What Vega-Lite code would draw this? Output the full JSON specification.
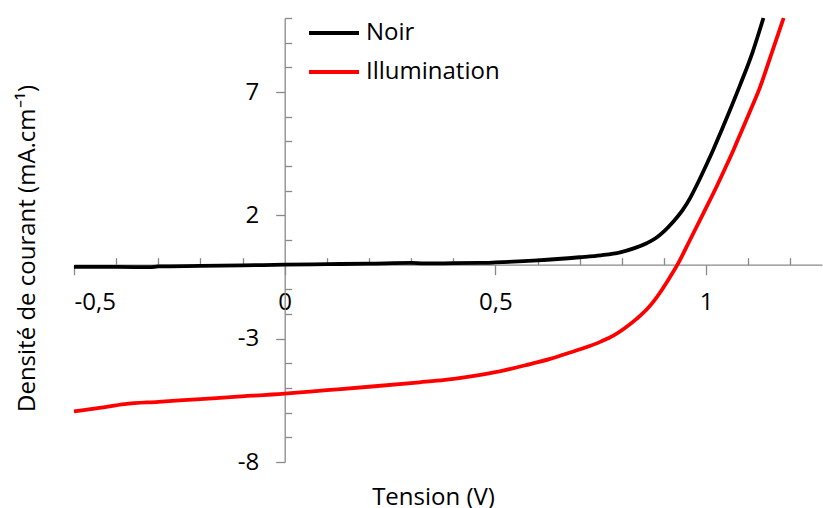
{
  "$schema": "https://vega.github.io/schema/vega-lite/v6.json",
  "width": 748,
  "height": 444,
  "autosize": {"type": "none"},
  "padding": {"left": 74, "top": 18, "right": 1, "bottom": 46},
  "background": "white",
  "config": {
    "view": {"stroke": null},
    "font": "Open Sans",
    "axis": {"labelFont": "Open Sans", "titleFont": "Open Sans", "labelFontSize": 24, "titleFontSize": 24, "labelColor": "#000000", "titleColor": "#000000", "titleFontWeight": "normal", "grid": false, "domainColor": "#898989", "tickColor": "#898989", "domainWidth": 1.3, "tickWidth": 1.3}
  },
  "data": {
    "values": [
      {"V": -0.5, "J": -0.09, "serie": "Noir"},
      {"V": -0.4, "J": -0.09, "serie": "Noir"},
      {"V": -0.32, "J": -0.1, "serie": "Noir"},
      {"V": -0.3, "J": -0.07, "serie": "Noir"},
      {"V": -0.2, "J": -0.05, "serie": "Noir"},
      {"V": -0.1, "J": -0.03, "serie": "Noir"},
      {"V": 0, "J": 0.0, "serie": "Noir"},
      {"V": 0.1, "J": 0.02, "serie": "Noir"},
      {"V": 0.2, "J": 0.04, "serie": "Noir"},
      {"V": 0.3, "J": 0.07, "serie": "Noir"},
      {"V": 0.33, "J": 0.05, "serie": "Noir"},
      {"V": 0.4, "J": 0.06, "serie": "Noir"},
      {"V": 0.463, "J": 0.07, "serie": "Noir"},
      {"V": 0.5, "J": 0.09, "serie": "Noir"},
      {"V": 0.6, "J": 0.17, "serie": "Noir"},
      {"V": 0.7, "J": 0.3, "serie": "Noir"},
      {"V": 0.75, "J": 0.38, "serie": "Noir"},
      {"V": 0.796, "J": 0.5, "serie": "Noir"},
      {"V": 0.83, "J": 0.67, "serie": "Noir"},
      {"V": 0.859, "J": 0.87, "serie": "Noir"},
      {"V": 0.88, "J": 1.07, "serie": "Noir"},
      {"V": 0.9, "J": 1.35, "serie": "Noir"},
      {"V": 0.922, "J": 1.74, "serie": "Noir"},
      {"V": 0.945, "J": 2.23, "serie": "Noir"},
      {"V": 0.962, "J": 2.7, "serie": "Noir"},
      {"V": 0.98, "J": 3.3, "serie": "Noir"},
      {"V": 0.998, "J": 3.95, "serie": "Noir"},
      {"V": 1.017, "J": 4.66, "serie": "Noir"},
      {"V": 1.035, "J": 5.38, "serie": "Noir"},
      {"V": 1.055, "J": 6.2, "serie": "Noir"},
      {"V": 1.081, "J": 7.3, "serie": "Noir"},
      {"V": 1.11, "J": 8.6, "serie": "Noir"},
      {"V": 1.136, "J": 10.0, "serie": "Noir"},
      {"V": -0.5, "J": -5.95, "serie": "Illumination"},
      {"V": -0.44, "J": -5.81, "serie": "Illumination"},
      {"V": -0.38, "J": -5.65, "serie": "Illumination"},
      {"V": -0.3, "J": -5.56, "serie": "Illumination"},
      {"V": -0.2, "J": -5.45, "serie": "Illumination"},
      {"V": -0.12, "J": -5.36, "serie": "Illumination"},
      {"V": 0, "J": -5.23, "serie": "Illumination"},
      {"V": 0.1, "J": -5.09, "serie": "Illumination"},
      {"V": 0.2, "J": -4.95, "serie": "Illumination"},
      {"V": 0.32, "J": -4.77, "serie": "Illumination"},
      {"V": 0.38, "J": -4.67, "serie": "Illumination"},
      {"V": 0.43, "J": -4.56, "serie": "Illumination"},
      {"V": 0.5, "J": -4.36, "serie": "Illumination"},
      {"V": 0.58, "J": -4.04, "serie": "Illumination"},
      {"V": 0.63, "J": -3.82, "serie": "Illumination"},
      {"V": 0.67, "J": -3.6, "serie": "Illumination"},
      {"V": 0.71, "J": -3.38, "serie": "Illumination"},
      {"V": 0.75, "J": -3.12, "serie": "Illumination"},
      {"V": 0.78, "J": -2.88, "serie": "Illumination"},
      {"V": 0.805, "J": -2.6, "serie": "Illumination"},
      {"V": 0.835, "J": -2.2, "serie": "Illumination"},
      {"V": 0.86, "J": -1.8, "serie": "Illumination"},
      {"V": 0.875, "J": -1.5, "serie": "Illumination"},
      {"V": 0.89, "J": -1.15, "serie": "Illumination"},
      {"V": 0.907, "J": -0.7, "serie": "Illumination"},
      {"V": 0.932, "J": 0.0, "serie": "Illumination"},
      {"V": 0.962, "J": 1.01, "serie": "Illumination"},
      {"V": 0.994, "J": 2.1, "serie": "Illumination"},
      {"V": 1.025, "J": 3.17, "serie": "Illumination"},
      {"V": 1.045, "J": 3.9, "serie": "Illumination"},
      {"V": 1.065, "J": 4.65, "serie": "Illumination"},
      {"V": 1.085, "J": 5.45, "serie": "Illumination"},
      {"V": 1.105, "J": 6.25, "serie": "Illumination"},
      {"V": 1.128, "J": 7.2, "serie": "Illumination"},
      {"V": 1.155, "J": 8.55, "serie": "Illumination"},
      {"V": 1.184, "J": 10.0, "serie": "Illumination"}
    ]
  },
  "resolve": {"axis": {"x": "independent", "y": "independent"}},
  "layer": [
    {
      "mark": {"type": "point", "opacity": 0},
      "encoding": {
        "x": {"field": "V", "type": "quantitative", "scale": {"domain": [-0.5, 1.275], "nice": false, "zero": false},
          "axis": {"orient": "top", "offset": -246.67, "values": [-0.4, -0.3, -0.2, -0.1, 0.1, 0.2, 0.3, 0.4, 0.6, 0.7, 0.8, 0.9, 1.1, 1.2], "labels": false, "domain": false, "tickSize": 7, "title": null}},
        "y": {"field": "J", "type": "quantitative", "scale": {"domain": [-8, 10], "nice": false, "zero": false},
          "axis": {"orient": "right", "offset": -537.3, "values": [-7, -6, -5, -4, -2, -1, 1, 3, 4, 5, 6, 8, 9, 10], "labels": false, "domain": false, "tickSize": 7, "title": null}}
      }
    },
    {
      "mark": {"type": "line", "strokeWidth": 3.8, "interpolate": "monotone"},
      "encoding": {
        "x": {"field": "V", "type": "quantitative",
          "axis": {"orient": "bottom", "offset": -197.33, "values": [-0.5, 0, 0.5, 1], "tickSize": 10, "labelPadding": 16, "labelExpr": "replace(toString(datum.value), '.', ',')",
            "title": "Tension (V)", "titleX": 359, "titleY": 240, "titleBaseline": "alphabetic", "titleAlign": "center", "titleAnchor": null}},
        "y": {"field": "J", "type": "quantitative",
          "axis": {"orient": "left", "offset": -210.7, "values": [-8, -3, 2, 7], "tickSize": 9, "labelPadding": 17, "labelExpr": "toString(datum.value)",
            "title": "Densité de courant (mA.cm⁻¹)", "titleX": -250, "titleY": 230, "titleAngle": -90, "titleBaseline": "alphabetic", "titleAlign": "center", "titleAnchor": null}},
        "color": {"field": "serie", "type": "nominal", "sort": ["Noir", "Illumination"],
          "scale": {"domain": ["Noir", "Illumination"], "range": ["#000000", "#ff0000"]},
          "legend": {"orient": "none", "legendX": 233, "legendY": -12, "title": null, "padding": 0, "symbolType": "stroke", "symbolSize": 2500, "symbolStrokeWidth": 4, "labelFontSize": 24, "labelFont": "Open Sans", "labelColor": "#000000", "labelOffset": 5, "rowPadding": -1}}
      }
    }
  ]
}
